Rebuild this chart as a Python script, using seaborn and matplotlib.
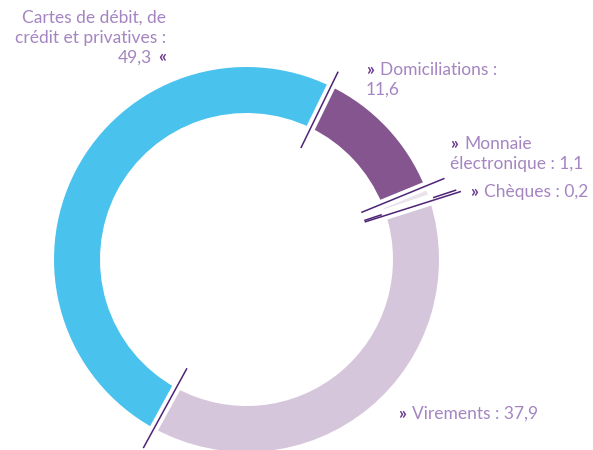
import numpy as np
import matplotlib
matplotlib.use("Agg")
from matplotlib import pyplot as plt
import seaborn as sns

# données (en %)
categories = ["Domiciliations", "Monnaie électronique", "Chèques", "Virements",
              "Cartes de débit, de crédit et privatives"]
values = [11.6, 1.1, 0.2, 37.9, 49.3]
label_templates = ["Domiciliations :\n{}", "Monnaie\nélectronique : {}", "Chèques : {}",
                   "Virements : {}", "Cartes de débit, de\ncrédit et privatives :\n{}"]

colors = ["#85558f", "#ebe3ec", "#ebe3ec", "#d5c6dc", "#4ac2ee"]
text_col = "#a485c1"
mark_col = "#6b3a8e"
line_col = "#4e2477"

W, H = 593, 450
cx, cy = 246.5, H - 259.5
r_out, ring = 192.5, 46
start = 64
fs = 12.5
lead_in = 124
lead_out = [209, 214, 221, 225, 215]

# position du texte (x, ligne de base en px depuis le haut), côté
label_pos = [(366, 75, "left"), (450, 149, "left"), (470, 197, "left"),
             (398, 419, "left"), (166, 22.5, "right")]
line_step = 20


def fmt(v):
    return "{:.1f}".format(v).replace(".", ",")


def main():
    sns.set_theme(style="white")
    plt.rcParams["font.family"] = ["Lato", "DejaVu Sans"]

    fig = plt.figure(figsize=(W / 100, H / 100), dpi=100)
    ax = fig.add_axes([0, 0, 1, 1])
    ax.pie(values, colors=colors, startangle=start, counterclock=False,
           radius=r_out, center=(cx, cy),
           wedgeprops=dict(width=ring, linewidth=0))
    ax.set_xlim(0, W)
    ax.set_ylim(0, H)
    ax.set_aspect("equal")
    ax.axis("off")

    # séparations blanches + traits
    frac = np.cumsum([0] + values)[:-1] / sum(values)
    angles = np.deg2rad(start - 360 * frac)
    for a, ro in zip(angles, lead_out):
        c, s = np.cos(a), np.sin(a)
        r1, r2 = r_out - ring - 4, r_out + 4
        ax.plot([cx + r1 * c, cx + r2 * c], [cy + r1 * s, cy + r2 * s],
                color="white", lw=6.5, solid_capstyle="butt")
        ax.plot([cx + lead_in * c, cx + ro * c], [cy + lead_in * s, cy + ro * s],
                color=line_col, lw=1.1, solid_capstyle="butt")

    # étiquettes
    for tpl, v, (x, y, side) in zip(label_templates, values, label_pos):
        lines = tpl.format(fmt(v)).split("\n")
        if side == "left":
            t = ax.text(x, H - y, "»", color=mark_col, fontsize=fs, fontweight="bold",
                        va="baseline", ha="left")
            ax.annotate(lines[0], xy=(1, 0), xycoords=t, xytext=(4.5, 0),
                        textcoords="offset points", va="bottom", ha="left",
                        color=text_col, fontsize=fs)
            for k, ln in enumerate(lines[1:], 1):
                ax.text(x, H - y - k * line_step, ln, color=text_col, fontsize=fs,
                        va="baseline", ha="left")
        else:
            for k, ln in enumerate(lines[:-1]):
                ax.text(x, H - y - k * line_step, ln, color=text_col, fontsize=fs,
                        va="baseline", ha="right")
            k = len(lines) - 1
            t = ax.text(x, H - y - k * line_step, "«", color=mark_col, fontsize=fs,
                        fontweight="bold", va="baseline", ha="right")
            ax.annotate(lines[-1], xy=(0, 0), xycoords=t, xytext=(-4.5, 0),
                        textcoords="offset points", va="bottom", ha="right",
                        color=text_col, fontsize=fs)

    fig.savefig("out.png", dpi=100)


if __name__ == "__main__":
    main()
